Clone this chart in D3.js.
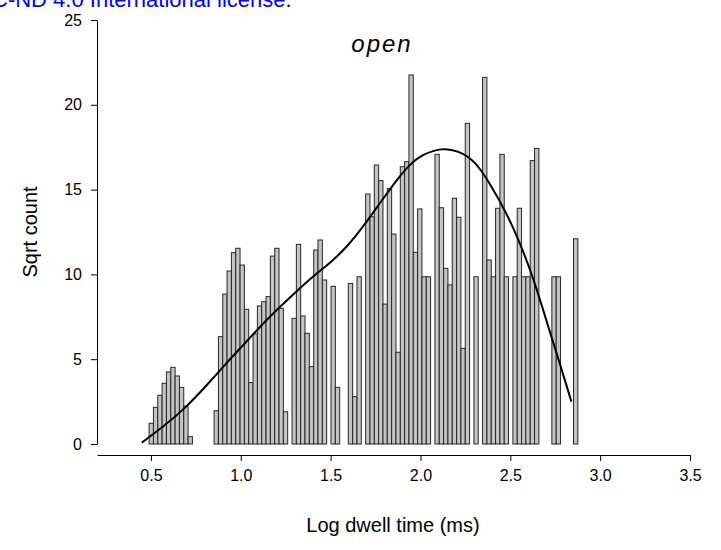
<!DOCTYPE html>
<html><head><meta charset="utf-8">
<script src="https://cdn.jsdelivr.net/npm/d3@7"></script>
<style>
body{margin:0;background:#fff}
svg{display:block}
text{font-family:"Liberation Sans",Arial,sans-serif}
</style>
</head><body>
<svg id="c" width="721" height="550"></svg>
<script>
// ---- data ----
const binStart = 0.49;          // left edge of first histogram bin (log ms)
const binWidth = 0.0241;        // histogram bin width (log ms)
const sqrtCounts = [
  1.22, 2.16, 2.87, 3.58, 4.25, 4.52, 4.01, 3.34, 2.24, 0.43,
  0, 0, 0, 0, 0,
  1.96, 6.33, 8.84, 10.2, 11.28, 11.54, 10.55, 7.94, 3.62, 6.49, 8.14, 8.39, 8.69, 11.08, 11.54, 8.0, 1.9,
  0,
  7.41, 11.77, 7.55, 6.53, 4.56, 11.44,
  12.03, 9.67, 0, 9.3, 3.34, 0, 0, 9.47, 2.79, 9.86,
  0, 14.74, 13.4, 16.45, 15.53, 8.25, 15.07, 12.38, 5.41, 16.35,
  16.65, 21.76, 11.3, 13.86, 9.86, 9.86, 0, 17.08, 13.93, 10.36,
  9.38, 14.49, 13.37, 5.64, 18.91, 0, 9.86, 0, 21.62, 10.85,
  9.86, 13.9, 17.08, 9.86, 0, 9.86, 13.9, 9.86, 9.86, 16.71,
  17.43, 0, 0, 0, 9.86, 9.86, 0, 0, 0, 12.1
];
const fitX = [0.449, 0.569, 0.690, 0.810, 0.922, 1.051, 1.144, 1.330, 1.413, 1.506, 1.598, 1.691, 1.784, 1.877, 1.942, 2.007, 2.118, 2.211, 2.304, 2.387, 2.480, 2.554, 2.628, 2.703, 2.777, 2.840];
const fitY = [0.08, 1.02, 2.1, 3.45, 4.8, 6.25, 7.35, 9.2, 9.98, 10.75, 11.7, 12.95, 14.35, 15.7, 16.5, 17.05, 17.47, 17.3, 16.7, 15.35, 13.6, 11.85, 9.8, 7.2, 4.7, 2.5];
const xTicks = [0.5, 1.0, 1.5, 2.0, 2.5, 3.0, 3.5];
const yTicks = [0, 5, 10, 15, 20, 25];
const xDomain = [0.2, 3.5];
const yDomain = [0, 25];
const title = "open";
const xLabel = "Log dwell time (ms)";
const yLabel = "Sqrt count";
const licenseText = "C-ND 4.0 International license";

// ---- drawing ----
const svg = d3.select("#c");
const x = d3.scaleLinear().domain(xDomain).range([97, 690]);
const y = d3.scaleLinear().domain(yDomain).range([444, 20]);

// license banner (clipped at the top edge, as in the source page)
const lic = svg.append("text").attr("x", -8).attr("y", 6.5)
  .attr("font-size", 22).attr("fill", "#0000ff");
lic.append("tspan").text(licenseText);
lic.append("tspan").attr("fill", "#000").text(".");

const bars = sqrtCounts.map((v, i) => ({x0: binStart + i * binWidth, v}))
  .filter(d => d.v > 0);
svg.append("g").selectAll("rect").data(bars).join("rect")
  .attr("x", d => x(d.x0))
  .attr("width", x(binWidth) - x(0))
  .attr("y", d => y(d.v))
  .attr("height", d => y(0) - y(d.v))
  .attr("fill", "#c4c4c4")
  .attr("stroke", "#262626")
  .attr("stroke-width", 1);

const line = d3.line().x(d => x(d[0])).y(d => y(d[1])).curve(d3.curveBasis);
svg.append("path").datum(fitX.map((v, i) => [v, fitY[i]]))
  .attr("d", line).attr("fill", "none").attr("stroke", "#000").attr("stroke-width", 2);

const yAxis = svg.append("g").attr("transform", "translate(97,0)")
  .call(d3.axisLeft(y).tickValues(yTicks).tickSize(6).tickSizeOuter(0).tickPadding(9).tickFormat(d3.format("d")));
const xAxis = svg.append("g").attr("transform", "translate(0,455)")
  .call(d3.axisBottom(x).tickValues(xTicks).tickSize(6).tickSizeOuter(0).tickPadding(9).tickFormat(d3.format(".1f")));
[yAxis, xAxis].forEach(g => {
  g.selectAll("text").attr("font-size", 16).attr("fill", "#000").attr("font-family", "'Liberation Sans', Arial, sans-serif");
  g.selectAll("line,path").attr("stroke", "#000");
});

svg.append("text").attr("x", 382).attr("y", 52).attr("text-anchor", "middle")
  .attr("font-size", 24).attr("font-style", "italic").attr("letter-spacing", 2).text(title);
svg.append("text").attr("x", 393).attr("y", 532).attr("text-anchor", "middle")
  .attr("font-size", 20).text(xLabel);
svg.append("text").attr("transform", "translate(37,232) rotate(-90)").attr("text-anchor", "middle")
  .attr("font-size", 20).text(yLabel);
</script>
</body></html>
